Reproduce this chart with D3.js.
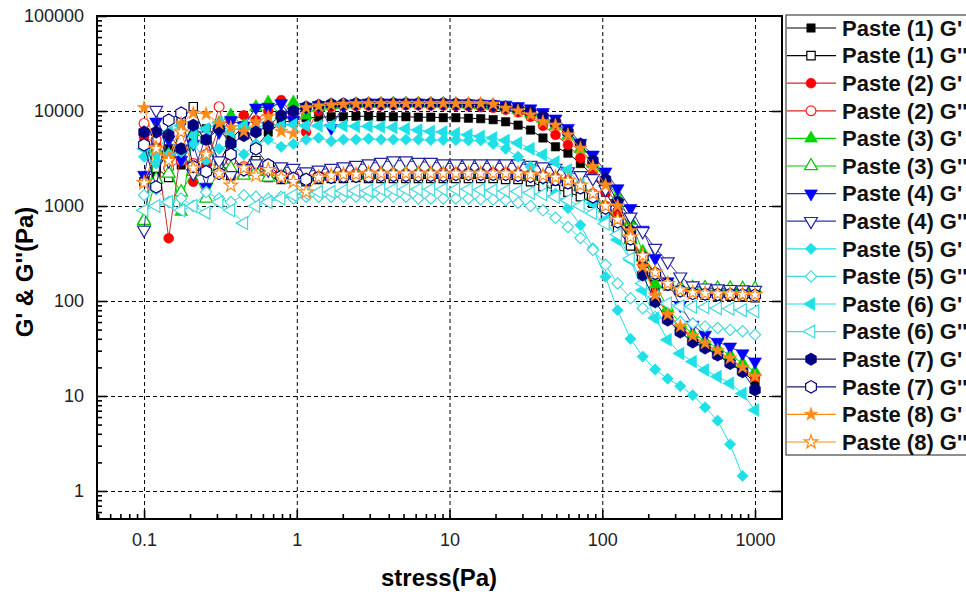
<!DOCTYPE html>
<html lang="en">
<head>
<meta charset="UTF-8">
<title>G' & G'' vs stress</title>
<style>
    body { margin: 0; background: #fff; }
    svg text { font-family: "Liberation Sans", Arial, sans-serif; }
    .grid line { stroke: #000; stroke-width: 1; stroke-dasharray: 4,3; }
    .grid path { display: none; }
    .ax path { display: none; }
    .ax line { stroke: #000; stroke-width: 1.6; }
</style>
</head>
<body>
<div id="chart"></div>
<script src="https://cdn.jsdelivr.net/npm/d3@7"></script>
<script>
// stress values of the sweep (Pa)
var stress = [0.1, 0.12, 0.145, 0.175, 0.21, 0.255, 0.31, 0.37, 0.45, 0.54,
    0.65, 0.79, 0.95, 1.15, 1.39, 1.68, 2.02, 2.44, 2.95, 3.56,
    4.29, 5.18, 6.25, 7.54, 9.1, 11, 13.3, 16, 19.3, 23.3,
    28.1, 33.9, 40.9, 49.4, 59.6, 71.9, 86.8, 105, 126, 153,
    184, 222, 268, 324, 391, 471, 569, 687, 829, 1000];

var p1G1 = [5000, 2200, 4000, 2700, 5500, 6500, 2800, 5000, 7000, 4100, 6000, 7500, 8000, 8500, 8600, 8700, 8700, 8800, 8800, 8700, 8700, 8700, 8600, 8600, 8500, 8500, 8400, 8300, 8100, 7700, 7100, 6300, 5200, 4200, 3600, 2800, 2100, 1400, 850, 480, 250, 125, 75, 52, 40, 33, 27, 22, 18, 14];
var p1G2 = [1800, 2500, 2000, 8000, 11100, 5000, 2300, 2100, 2500, 3000, 2000, 1900, 2000, 1800, 1900, 1950, 1950, 2000, 1950, 1950, 1950, 1950, 1950, 1950, 1950, 1950, 1950, 1950, 1950, 1900, 1900, 1800, 1600, 1500, 1400, 1250, 1070, 800, 560, 380, 260, 180, 145, 126, 118, 115, 113, 112, 110, 108];
var p2G1 = [5500, 4400, 457, 4000, 1800, 2700, 7000, 8000, 9000, 8000, 10000, 13000, 9000, 6000, 10000, 11000, 11200, 11300, 11400, 11400, 11500, 11500, 11500, 11400, 11400, 11300, 11200, 11000, 10800, 10300, 9700, 8700, 7000, 5600, 4400, 3200, 2200, 1400, 880, 500, 240, 120, 72, 52, 42, 35, 29, 24, 20, 16];
var p2G2 = [7400, 5000, 2500, 3000, 2800, 3500, 11100, 3000, 2600, 2400, 2200, 2300, 2100, 2000, 2100, 2150, 2150, 2200, 2200, 2200, 2200, 2200, 2200, 2200, 2250, 2250, 2250, 2250, 2250, 2250, 2200, 2150, 2100, 2000, 1850, 1650, 1350, 1000, 700, 450, 290, 190, 148, 128, 122, 120, 120, 120, 118, 115];
var p3G1 = [720, 4000, 3500, 870, 6000, 5000, 7500, 9000, 7000, 11000, 12300, 9000, 12300, 9000, 11000, 11500, 11700, 11800, 11900, 11900, 12000, 12000, 12000, 11900, 11900, 11800, 11700, 11500, 11300, 10900, 10300, 9500, 8300, 7000, 5500, 4000, 2800, 1900, 1250, 700, 330, 150, 85, 58, 45, 38, 32, 27, 22, 18];
var p3G2 = [700, 1900, 2200, 1400, 2300, 1200, 2600, 2500, 2100, 2300, 2000, 2200, 1900, 2000, 2100, 2100, 2150, 2150, 2150, 2200, 2200, 2200, 2200, 2200, 2200, 2200, 2200, 2200, 2200, 2200, 2150, 2100, 2050, 1950, 1800, 1600, 1300, 950, 680, 440, 290, 195, 150, 140, 138, 137, 136, 136, 135, 135];
var p4G1 = [2120, 7700, 5000, 3050, 4500, 1590, 6000, 8000, 7000, 10800, 11000, 12000, 8000, 11000, 11500, 6600, 11500, 12000, 12200, 12200, 12200, 12200, 12200, 12100, 12100, 12000, 12000, 11900, 11800, 11600, 11200, 10600, 9700, 8300, 6600, 4600, 3460, 2300, 1530, 946, 560, 282, 160, 90, 56, 44, 37, 33, 28, 23];
var p4G2 = [560, 10200, 3000, 4000, 2200, 5500, 3000, 2100, 2500, 2800, 2400, 2600, 2500, 2300, 2400, 2500, 2600, 2700, 2800, 2900, 3000, 3000, 2900, 2900, 2800, 2800, 2800, 2800, 2800, 2800, 2800, 2700, 2600, 2500, 2300, 2100, 1950, 1500, 1070, 770, 540, 360, 260, 180, 145, 138, 135, 133, 132, 130];
var p5G1 = [3300, 2800, 3500, 3700, 4500, 3000, 4000, 4500, 3500, 4500, 5000, 4200, 4500, 5000, 5200, 4800, 5000, 5000, 5100, 5000, 5000, 5000, 5000, 4950, 4950, 4950, 4900, 4900, 4500, 4000, 3300, 2600, 1900, 1350, 950, 630, 360, 180, 80, 40, 26, 19, 15.2, 12.7, 10.2, 7.6, 5.5, 3.1, 1.44];
var p5G2 = [1300, 1500, 1100, 1200, 1000, 1400, 1200, 1100, 1300, 1250, 1200, 1250, 1200, 1250, 1250, 1250, 1250, 1250, 1250, 1250, 1250, 1250, 1200, 1200, 1200, 1200, 1200, 1180, 1170, 1150, 1080, 1000, 900, 750, 600, 460, 345, 240, 153, 107, 84, 68, 63, 60, 58, 54, 52, 49.6, 48, 44];
var p6G1 = [4000, 3500, 6000, 7000, 5500, 6500, 7500, 6000, 7000, 6500, 7500, 7000, 7200, 7000, 7000, 7000, 7000, 6900, 6900, 6800, 6700, 6500, 6300, 6100, 6000, 5800, 5600, 5400, 5200, 4900, 4600, 4000, 3460, 2900, 2400, 1700, 1070, 710, 440, 270, 130, 66, 39, 28, 23, 18.8, 16, 13.6, 10.6, 7.1];
var p6G2 = [900, 1000, 1100, 900, 1000, 850, 1100, 900, 660, 1000, 1100, 1200, 1300, 1350, 1400, 1400, 1450, 1450, 1450, 1500, 1500, 1500, 1500, 1500, 1500, 1500, 1500, 1480, 1460, 1440, 1420, 1380, 1330, 1250, 1150, 1000, 840, 650, 500, 280, 153, 110, 94, 88, 87, 86, 84, 83, 80, 78];
var p7G1 = [6000, 6000, 5600, 4000, 7100, 5000, 6500, 4500, 5500, 6000, 7000, 9000, 10000, 11000, 11500, 11800, 11900, 12000, 12000, 12000, 12000, 12000, 12000, 12000, 12000, 11900, 11800, 11700, 11500, 11000, 10500, 9800, 8700, 7500, 6000, 4500, 3000, 1900, 1100, 550, 188, 98, 63, 47, 37, 32, 27, 22, 18, 11.6];
var p7G2 = [4400, 1590, 8000, 9500, 2600, 2300, 2200, 3500, 2400, 4000, 2700, 2050, 1950, 1900, 2000, 2000, 2050, 2050, 2050, 2100, 2100, 2100, 2100, 2100, 2100, 2150, 2150, 2150, 2150, 2150, 2100, 2050, 2000, 1900, 1750, 1550, 1250, 950, 680, 450, 290, 195, 150, 128, 120, 118, 117, 117, 116, 115];
var p8G1 = [10800, 4100, 3200, 7400, 9500, 9300, 7400, 6700, 6100, 7700, 8700, 6100, 5800, 10800, 11300, 11600, 11800, 11900, 12000, 12000, 12000, 12000, 12000, 12000, 12000, 12000, 12000, 12000, 11800, 10700, 10000, 9100, 7700, 7100, 5600, 4050, 2600, 1660, 1000, 550, 230, 115, 72, 54, 43, 36, 30, 25, 20, 16];
var p8G2 = [1750, 4000, 3000, 6000, 2500, 3500, 2200, 1650, 2500, 2100, 2400, 2000, 1800, 1400, 2000, 2100, 2150, 2150, 2200, 2200, 2200, 2200, 2200, 2200, 2200, 2200, 2200, 2200, 2200, 2200, 2200, 2150, 2100, 2000, 1850, 1650, 1350, 1000, 720, 470, 300, 200, 152, 130, 122, 120, 119, 118, 117, 116];

var names = ["Paste (1) G'", "Paste (1) G''", "Paste (2) G'", "Paste (2) G''",
    "Paste (3) G'", "Paste (3) G''", "Paste (4) G'", "Paste (4) G''",
    "Paste (5) G'", "Paste (5) G''", "Paste (6) G'", "Paste (6) G''",
    "Paste (7) G'", "Paste (7) G''", "Paste (8) G'", "Paste (8) G''"];
var values = [p1G1, p1G2, p2G1, p2G2, p3G1, p3G2, p4G1, p4G2,
    p5G1, p5G2, p6G1, p6G2, p7G1, p7G2, p8G1, p8G2];

var xTicks = [0.1, 1, 10, 100, 1000];
var yTicks = [1, 10, 100, 1000, 10000, 100000];

// look of each series
var styles = [
    {shape: "square", color: "#000000", fill: true},
    {shape: "square", color: "#000000", fill: false},
    {shape: "circle", color: "#ff0000", fill: true, line: "#d42a2a"},
    {shape: "circle", color: "#ff2020", fill: false, line: "#d42a2a"},
    {shape: "up", color: "#00d400", fill: true},
    {shape: "up", color: "#00c800", fill: false},
    {shape: "down", color: "#0000ff", fill: true, line: "#3333a6"},
    {shape: "down", color: "#24249e", fill: false, line: "#3333a6"},
    {shape: "diamond", color: "#1ee0e6", fill: true},
    {shape: "diamond", color: "#44d8dc", fill: false},
    {shape: "left", color: "#1ee0e6", fill: true},
    {shape: "left", color: "#44d8dc", fill: false},
    {shape: "hex", color: "#000080", fill: true, line: "#1a1a70"},
    {shape: "hex", color: "#000080", fill: false, line: "#1a1a70"},
    {shape: "star", color: "#ff8a1c", fill: true},
    {shape: "star", color: "#ff8a1c", fill: false}
];

var plotL = 97, plotR = 782, plotT = 16, plotB = 519;

var svg = d3.select("#chart").append("svg")
    .attr("width", 966)
    .attr("height", 596);

var x = d3.scaleLog().domain([0.0492, 1502]).range([plotL, plotR]);
var y = d3.scaleLog().domain([0.507, 100000]).range([plotB, plotT]);

function minors(lo, hi) {
    var m = [];
    for (var e = lo; e < hi; e++) {
        for (var k = 2; k <= 9; k++) {
            m.push(k * Math.pow(10, e));
        }
    }
    return m;
}
var xMinor = minors(-2, 4).filter(function(v) { return v > 0.0492 && v < 1502; });
var yMinor = minors(-1, 5).filter(function(v) { return v > 0.507 && v < 100000; });

// grid
svg.append("g").attr("class", "grid")
    .attr("transform", "translate(0," + plotB + ")")
    .call(d3.axisBottom(x).tickValues(xTicks).tickSize(-(plotB - plotT)).tickFormat(""));
svg.append("g").attr("class", "grid")
    .attr("transform", "translate(" + plotL + ",0)")
    .call(d3.axisLeft(y).tickValues([1, 10, 100, 1000, 10000]).tickSize(-(plotR - plotL)).tickFormat(""));

// hexagon path
function hexPath(r) {
    var p = [];
    for (var i = 0; i < 6; i++) {
        var a = Math.PI / 6 + i * Math.PI / 3;
        p.push([r * Math.cos(a), r * Math.sin(a)]);
    }
    return "M" + p.join("L") + "Z";
}

function markerPath(shape) {
    if (shape == "square") return d3.symbol(d3.symbolSquare, 70)();
    if (shape == "circle") return d3.symbol(d3.symbolCircle, 76)();
    if (shape == "up" || shape == "down" || shape == "left") return d3.symbol(d3.symbolTriangle, 72)();
    if (shape == "diamond") return d3.symbol(d3.symbolSquare, 64)();
    if (shape == "hex") return hexPath(6.2);
    if (shape == "star") return d3.symbol(d3.symbolStar, 58)();
}
function rot(shape) {
    if (shape == "down") return " rotate(180)";
    if (shape == "left") return " rotate(-90)";
    if (shape == "diamond") return " rotate(45)";
    return "";
}

var line = d3.line()
    .x(function(d) { return x(d[0]); })
    .y(function(d) { return y(d[1]); });

var plot = svg.append("g");
values.forEach(function(vals, s) {
    var st = styles[s];
    var pts = vals.map(function(v, i) { return [stress[i], v]; });
    var g = plot.append("g");
    g.append("path")
        .attr("d", line(pts))
        .attr("fill", "none")
        .attr("stroke", st.line || st.color)
        .attr("stroke-width", 1);
    g.selectAll("path.m")
        .data(pts)
        .enter().append("path")
        .attr("class", "m")
        .attr("d", markerPath(st.shape))
        .attr("transform", function(d) { return "translate(" + x(d[0]) + "," + y(d[1]) + ")" + rot(st.shape); })
        .attr("fill", st.fill ? st.color : "#fff")
        .attr("stroke", st.color)
        .attr("stroke-width", st.fill ? 0.6 : 1.2);
});

// axes with inward ticks
svg.append("g").attr("class", "ax")
    .attr("transform", "translate(0," + plotB + ")")
    .call(d3.axisBottom(x).tickValues(xMinor).tickSize(-5).tickFormat(""));
svg.append("g").attr("class", "ax")
    .attr("transform", "translate(0," + plotB + ")")
    .call(d3.axisBottom(x).tickValues(xTicks).tickSize(-9).tickPadding(14)
        .tickFormat(function(d) { return d < 1 ? "0.1" : d3.format("d")(d); }));
svg.append("g").attr("class", "ax")
    .attr("transform", "translate(" + plotL + ",0)")
    .call(d3.axisLeft(y).tickValues(yMinor).tickSize(-5).tickFormat(""));
svg.append("g").attr("class", "ax")
    .attr("transform", "translate(" + plotL + ",0)")
    .call(d3.axisLeft(y).tickValues(yTicks).tickSize(-10).tickPadding(13).tickFormat(d3.format("d")));
svg.append("g").attr("class", "ax")
    .attr("transform", "translate(" + plotR + ",0)")
    .call(d3.axisRight(y).tickValues([1, 10, 100, 1000, 10000]).tickSize(-10).tickFormat(""));

svg.selectAll(".ax text")
    .style("font-size", "18px")
    .style("fill", "#222")
    .style("font-family", "'Liberation Sans', Arial, sans-serif");

svg.append("rect")
    .attr("x", plotL).attr("y", plotT)
    .attr("width", plotR - plotL).attr("height", plotB - plotT)
    .attr("fill", "none")
    .attr("stroke", "#000")
    .attr("stroke-width", 2);

// titles
svg.append("text")
    .attr("x", 439).attr("y", 586)
    .attr("text-anchor", "middle")
    .style("font-size", "24px").style("font-weight", "bold")
    .text("stress(Pa)");
svg.append("text")
    .attr("transform", "translate(33,272) rotate(-90)")
    .attr("text-anchor", "middle")
    .style("font-size", "24px").style("font-weight", "bold")
    .text("G' & G''(Pa)");

// legend
var leg = svg.append("g");
leg.append("rect")
    .attr("x", 786).attr("y", 15)
    .attr("width", 200).attr("height", 440)
    .attr("fill", "#fff")
    .attr("stroke", "#444")
    .attr("stroke-width", 1.2);
names.forEach(function(n, i) {
    var st = styles[i];
    var cy = 28 + i * 27.6;
    leg.append("line")
        .attr("x1", 787).attr("x2", 836)
        .attr("y1", cy).attr("y2", cy)
        .attr("stroke", st.line || st.color)
        .attr("stroke-width", 1.2);
    leg.append("path")
        .attr("d", markerPath(st.shape))
        .attr("transform", "translate(811," + cy + ")" + rot(st.shape))
        .attr("fill", st.fill ? st.color : "#fff")
        .attr("stroke", st.color)
        .attr("stroke-width", st.fill ? 0.6 : 1.2);
    leg.append("text")
        .attr("x", 842).attr("y", cy + 7.8)
        .style("font-size", "22px").style("font-weight", "bold")
        .style("fill", "#111")
        .text(n);
});
</script>
</body>
</html>
